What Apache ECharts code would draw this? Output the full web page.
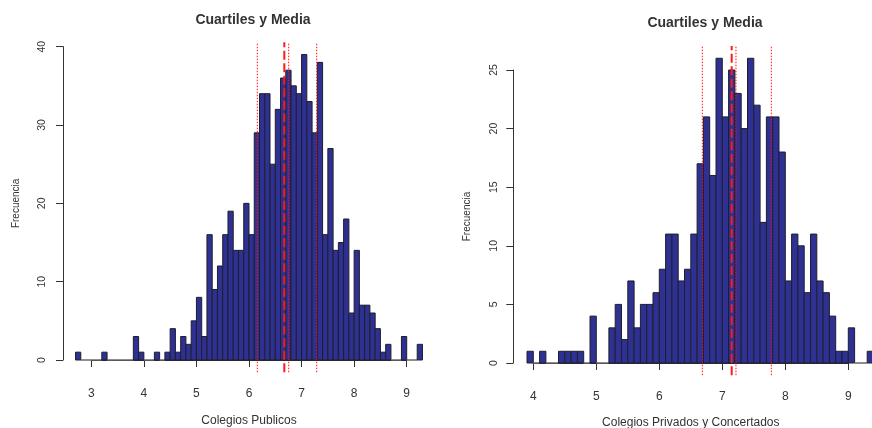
<!DOCTYPE html>
<html><head><meta charset="utf-8">
<script src="https://cdn.jsdelivr.net/npm/echarts@6/dist/echarts.min.js"></script>
<style>html,body{margin:0;padding:0;background:#fff}#c{width:872px;height:428px}</style>
</head><body><div id="c"></div>
<script>
// ---- data ----
const binWidth = 0.1;
const publicStart = 2.7;
const publicCounts = [1,0,0,0,0,1,0,0,0,0, 0,3,1,0,0,1,0,1,4,1, 3,2,5,8,3,16,9,12,16,19,
  14,14,20,16,29,34,34,25,32,36, 37,35,34,39,33,29,38,16,27,14, 15,18,6,14,7,7,6,4,1,2, 0,0,3,0,0,2];
const privateStart = 3.9;
const privateCounts = [1,0,1,0,0,1,1,1,1,0, 4,0,0,3,5,2,7,3,5,5, 6,8,11,11,7,8,11,17,21,16,
  26,21,25,23,20,26,22,12,21,21, 18,7,11,10,6,11,7,6,4,1, 1,3,0,0,1];
const publicQuartiles = [6.158, 6.755, 7.288];
const publicMean = 6.672;
const privateQuartiles = [6.683, 7.217, 7.778];
const privateMean = 7.149;
const publicXTicks = [3,4,5,6,7,8,9];
const privateXTicks = [4,5,6,7,8,9];
const titleText = 'Cuartiles y Media';
const yName = 'Frecuencia';
const publicXName = 'Colegios Publicos';
const privateXName = 'Colegios Privados y Concertados';

// ---- helpers ----
function bins(start, counts){
  return counts.map((c,i)=>{
    const a = +(start + i*binWidth).toFixed(4);
    return [a, +(a+binWidth).toFixed(4), c];
  });
}
const FILL = '#2E3192', BORDER = '#1e1e2e', AXIS = '#333', TXT = '#333';
const FONT = 'Liberation Sans, Arial, sans-serif';
function renderBar(params, api){
  const x0 = api.value(0), x1 = api.value(1), c = api.value(2);
  const p0 = api.coord([x0, c]), p1 = api.coord([x1, 0]);
  return {type:'rect', shape:{x:p0[0], y:p0[1], width:p1[0]-p0[0], height:p1[1]-p0[1]},
    style:{fill: c>0 ? FILL : 'none', stroke: c>0 ? BORDER : '#666', lineWidth:1}};
}
function vlineSeries(idx, values, maxCount, dashed){
  const lo = -0.04*maxCount, hi = maxCount*1.04;
  return {type:'custom', xAxisIndex:idx, yAxisIndex:idx, clip:false, silent:true, z:5,
    data: values.map(v=>[v]),
    encode:{x:0},
    renderItem:(p, api)=>{
      const v = api.value(0);
      const a = api.coord([v, lo]), b = api.coord([v, hi]);
      return {type:'line', shape:{x1:a[0], y1:a[1], x2:b[0], y2:b[1]},
        style: dashed ? {stroke:'#ff1a1a', lineWidth:2, lineDash:[9,3.5]}
                      : {stroke:'#ff1010', lineWidth:1, lineDash:[1.5,1.5]}};
    }};
}
function xAxisCfg(idx, min, max, ticks, name, offset, margin, nameGap){
  return {type:'value', gridIndex:idx, min, max, interval:1, offset,
    axisLine:{show:true, lineStyle:{color:AXIS, width:1}},
    axisTick:{show:true, length:7, lineStyle:{color:AXIS}, customValues:ticks},
    axisLabel:{color:TXT, fontSize:12, fontFamily:FONT, margin, customValues:ticks},
    splitLine:{show:false},
    name, nameLocation:'middle', nameGap,
    nameTextStyle:{color:TXT, fontSize:12, fontFamily:FONT}};
}
function yAxisCfg(idx, max, interval, offset, margin, nameGap){
  return {type:'value', gridIndex:idx, min:0, max, interval, offset,
    axisLine:{show:true, lineStyle:{color:AXIS, width:1}},
    axisTick:{show:true, length:7, lineStyle:{color:AXIS}},
    axisLabel:{color:TXT, fontSize:10.5, rotate:90, margin, fontFamily:FONT},
    splitLine:{show:false},
    name:yName, nameLocation:'middle', nameGap, nameRotate:90,
    nameTextStyle:{color:TXT, fontSize:10, fontFamily:FONT}};
}
const pubMax = Math.max(...publicCounts), privMax = Math.max(...privateCounts);

const chart = echarts.init(document.getElementById('c'), null, {renderer:'canvas'});
chart.setOption({
  animation:false,
  backgroundColor:'#fff',
  title:[
    {text:titleText, left:248, top:8, textAlign:'center',
     textStyle:{fontSize:14, fontWeight:'bold', color:TXT, fontFamily:FONT}},
    {text:titleText, left:700, top:11, textAlign:'center',
     textStyle:{fontSize:14, fontWeight:'bold', color:TXT, fontFamily:FONT}}
  ],
  grid:[
    {left:91.3, right:872-406.7, top:46.7, bottom:428-360, outerBoundsMode:'none', containLabel:false},
    {left:533.3, right:872-848.3, top:70, bottom:428-363, outerBoundsMode:'none', containLabel:false}
  ],
  xAxis:[
    xAxisCfg(0, 3, 9, publicXTicks, publicXName, 12.7, 15, 42),
    xAxisCfg(1, 4, 9, privateXTicks, privateXName, 12, 15.5, 42)
  ],
  yAxis:[
    yAxisCfg(0, 40, 10, 28.3, 15, 42),
    yAxisCfg(1, 25, 5, 20, 13.5, 41)
  ],
  series:[
    {type:'custom', xAxisIndex:0, yAxisIndex:0, clip:false, renderItem:renderBar,
     data:bins(publicStart, publicCounts), encode:{x:[0,1], y:2}},
    {type:'custom', xAxisIndex:1, yAxisIndex:1, clip:false, renderItem:renderBar,
     data:bins(privateStart, privateCounts), encode:{x:[0,1], y:2}},
    vlineSeries(0, publicQuartiles, pubMax, false),
    vlineSeries(0, [publicMean], pubMax, true),
    vlineSeries(1, privateQuartiles, privMax, false),
    vlineSeries(1, [privateMean], privMax, true)
  ]
});
</script></body></html>
